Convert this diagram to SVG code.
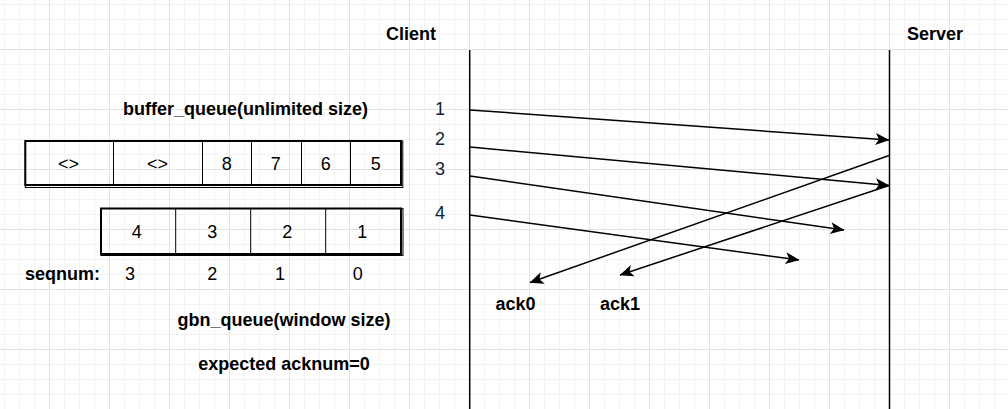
<svg xmlns="http://www.w3.org/2000/svg" width="1008" height="409" viewBox="0 0 1008 409">
  <defs>
    <pattern id="grid" patternUnits="userSpaceOnUse" x="-11" y="-11" width="60" height="60">
      <rect x="15" y="0" width="1" height="60" fill="#f3f3f3"/>
      <rect x="30" y="0" width="1" height="60" fill="#f3f3f3"/>
      <rect x="45" y="0" width="1" height="60" fill="#f3f3f3"/>
      <rect x="0" y="15" width="60" height="1" fill="#f3f3f3"/>
      <rect x="0" y="30" width="60" height="1" fill="#f3f3f3"/>
      <rect x="0" y="45" width="60" height="1" fill="#f3f3f3"/>
      <rect x="0" y="0" width="1" height="60" fill="#e2e2e2"/>
      <rect x="0" y="0" width="60" height="1" fill="#e2e2e2"/>
    </pattern>
    <marker id="arrow" markerUnits="userSpaceOnUse" markerWidth="14" markerHeight="12" viewBox="0 0 14 12" refX="13.5" refY="6" orient="auto">
      <path d="M0,0 L14,6 L0,12 L3.5,6 Z" fill="#000"/>
    </marker>
    <style>
      text { font-family: "Liberation Sans", Arial, sans-serif; font-size: 18px; fill: #000; }
      .b { font-weight: bold; }
      .c { text-anchor: middle; }
      .num { fill: #0e2238; }
      .thick { fill: none; stroke: #000; stroke-width: 2; }
      .thin { fill: none; stroke: #000; stroke-width: 1; }
      .life { stroke: #000; stroke-width: 1.5; }
      .msg { stroke: #000; stroke-width: 1.5; fill: none; marker-end: url(#arrow); }
    </style>
  </defs>
  <rect x="0" y="0" width="1008" height="409" fill="#ffffff"/>
  <rect x="0" y="0" width="1008" height="409" fill="url(#grid)"/>

  <g id="client">
    <text class="b c" x="411" y="40">Client</text>
    <line class="life" x1="469.7" y1="50" x2="469.7" y2="409"/>
  </g>
  <g id="server">
    <text class="b c" x="935" y="40">Server</text>
    <line class="life" x1="889.5" y1="50" x2="889.5" y2="409"/>
  </g>

  <g id="buffer_queue">
    <text class="b c" x="245.5" y="115">buffer_queue(unlimited size)</text>
    <rect class="thin" x="25.3" y="141" width="377.5" height="46.5"/>
    <rect class="thick" x="25.3" y="141" width="375.7" height="44"/>
    <line class="thin" x1="113.5" y1="141" x2="113.5" y2="185"/>
    <line class="thin" x1="202.5" y1="141" x2="202.5" y2="185"/>
    <line class="thin" x1="251.5" y1="141" x2="251.5" y2="185"/>
    <line class="thin" x1="301.5" y1="141" x2="301.5" y2="185"/>
    <line class="thin" x1="350.5" y1="141" x2="350.5" y2="185"/>
    <text class="c" x="68.5" y="170">&lt;&gt;</text>
    <text class="c" x="157.5" y="170">&lt;&gt;</text>
    <text class="c" x="226.7" y="170">8</text>
    <text class="c" x="275.7" y="170">7</text>
    <text class="c" x="325.7" y="170">6</text>
    <text class="c" x="375.7" y="170">5</text>
  </g>

  <g id="gbn_queue">
    <rect class="thin" x="101" y="208.5" width="302" height="47"/>
    <rect class="thick" x="101" y="208.5" width="300" height="45.5"/>
    <line class="thin" x1="175.7" y1="208.5" x2="175.7" y2="254"/>
    <line class="thin" x1="250.7" y1="208.5" x2="250.7" y2="254"/>
    <line class="thin" x1="325.7" y1="208.5" x2="325.7" y2="254"/>
    <text class="c" x="136.7" y="238">4</text>
    <text class="c" x="212.3" y="238">3</text>
    <text class="c" x="287.3" y="238">2</text>
    <text class="c" x="362.3" y="238">1</text>
    <text class="b" x="25" y="280">seqnum:</text>
    <text class="c" x="130" y="280">3</text>
    <text class="c" x="212.3" y="280">2</text>
    <text class="c" x="280" y="280">1</text>
    <text class="c" x="357.7" y="280">0</text>
    <text class="b c" x="284" y="326">gbn_queue(window size)</text>
    <text class="b c" x="284" y="370">expected acknum=0</text>
  </g>

  <g id="labels">
    <text class="c num" x="440" y="115">1</text>
    <text class="c num" x="440" y="145">2</text>
    <text class="c num" x="440" y="175">3</text>
    <text class="c num" x="440" y="218.5">4</text>
    <text class="b c" x="515.5" y="310">ack0</text>
    <text class="b c" x="620" y="310">ack1</text>
  </g>

  <g id="connectors">
    <line class="msg" x1="470" y1="110" x2="889" y2="140"/>
    <line class="msg" x1="470" y1="147" x2="889" y2="185.5"/>
    <line class="msg" x1="470" y1="176" x2="844" y2="230"/>
    <line class="msg" x1="470" y1="215" x2="799" y2="260"/>
    <line class="msg" x1="889" y1="155.5" x2="530" y2="282.5"/>
    <line class="msg" x1="889" y1="185.5" x2="620" y2="275"/>
  </g>
</svg>
